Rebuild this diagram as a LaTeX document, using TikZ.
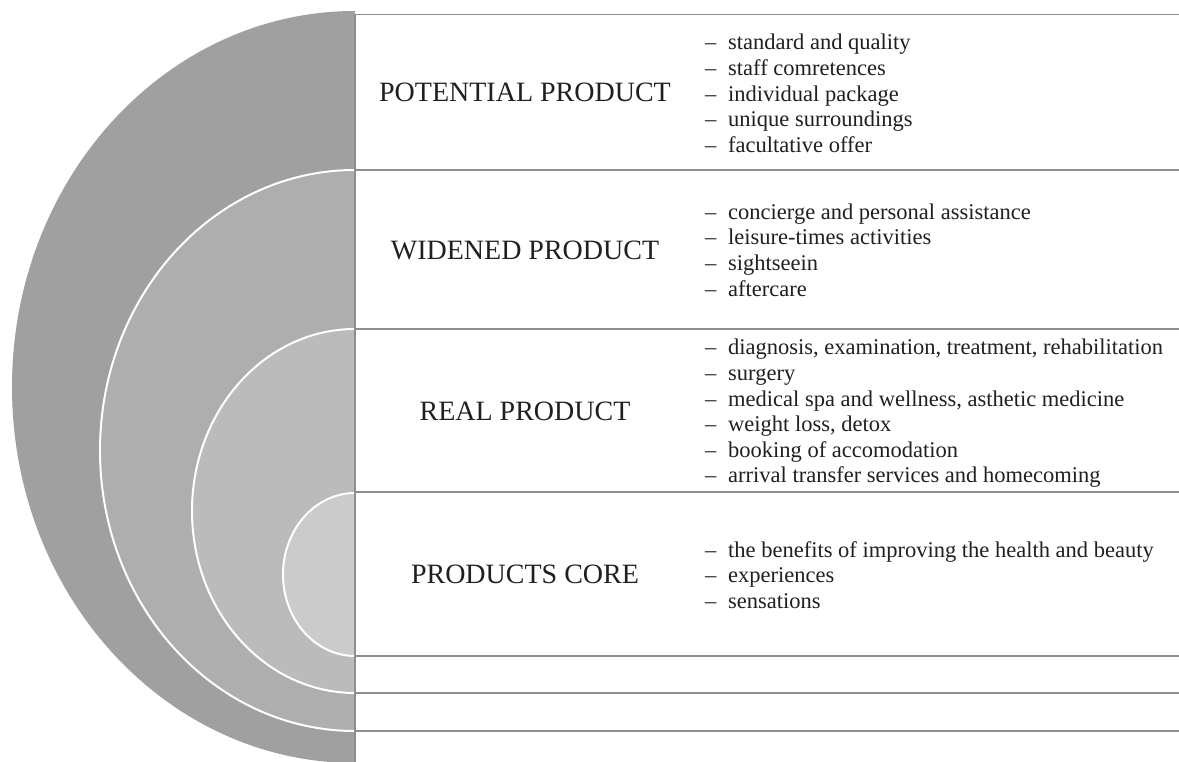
\documentclass[tikz,border=0pt]{standalone}
\usepackage{fontspec}
\setmainfont{Liberation Serif}
\definecolor{ringA}{HTML}{A0A0A0}
\definecolor{ringB}{HTML}{ADAEAD}
\definecolor{ringC}{HTML}{BBBBBB}
\definecolor{ringD}{HTML}{CBCBCB}
\definecolor{rule}{HTML}{8E8E8E}
\definecolor{ink}{HTML}{231F20}
\newcommand{\myitem}[1]{\hbox{\makebox[23pt][l]{–}#1}}
\newcommand{\mylist}[1]{\vtop{\fontsize{22.5}{25.6}\selectfont #1}}
\tikzset{
  ring/.style={draw=white, line width=2pt},
  rowline/.style={draw=rule, line width=1.4pt},
  label/.style={anchor=base, inner sep=0pt, text=ink, font=\fontsize{28}{32}\selectfont},
  items/.style={anchor=base west, inner sep=0pt, text=ink},
}
\begin{document}
\begin{tikzpicture}[x=1pt,y=-1pt]
\useasboundingbox (0,0) rectangle (1179,762);
\fill[white] (0,0) rectangle (1179,762);
\begin{scope}
  \clip (0,0) rectangle (355,762);
  \fill[ringA] (355,387) ellipse [x radius=343, y radius=376];
  \filldraw[ring, fill=ringB] (355,450.5) ellipse [x radius=255, y radius=280.5];
  \filldraw[ring, fill=ringC] (355,511) ellipse [x radius=163, y radius=182];
  \filldraw[ring, fill=ringD] (355,574.5) ellipse [x radius=72, y radius=81.5];
\end{scope}
% grid
\coordinate (vtop) at (355,14.5);
\coordinate (vbot) at (355,762);
\foreach \y/\n in {14.5/r0,170/r1,329/r2,492/r3,656/r4,693/r5,731/r6}{
  \coordinate (\n L) at (355,\y);
  \coordinate (\n R) at (1179,\y);
  \draw[rowline] (\n L) -- (\n R);
}
\draw[rowline] (vtop) -- (vbot);
% labels
\node[label] (potential) at (525,101.7) {POTENTIAL PRODUCT};
\node[label] (widened) at (525,260) {WIDENED PRODUCT};
\node[label] (real) at (525,420.7) {REAL PRODUCT};
\node[label] (core) at (525,583.7) {PRODUCTS CORE};
% lists
\node[items] (potlist) at (705,50) {\mylist{%
  \myitem{standard and quality}
  \myitem{staff comretences}
  \myitem{individual package}
  \myitem{unique surroundings}
  \myitem{facultative offer}}};
\node[items] (widlist) at (705,219.3) {\mylist{%
  \myitem{concierge and personal assistance}
  \myitem{leisure-times activities}
  \myitem{sightseein}
  \myitem{aftercare}}};
\node[items] (reallist) at (705,355) {\mylist{%
  \myitem{diagnosis, examination, treatment, rehabilitation}
  \myitem{surgery}
  \myitem{medical spa and wellness, asthetic medicine}
  \myitem{weight loss, detox}
  \myitem{booking of accomodation}
  \myitem{arrival transfer services and homecoming}}};
\node[items] (corelist) at (705,557) {\mylist{%
  \myitem{the benefits of improving the health and beauty}
  \myitem{experiences}
  \myitem{sensations}}};
\end{tikzpicture}
\end{document}
